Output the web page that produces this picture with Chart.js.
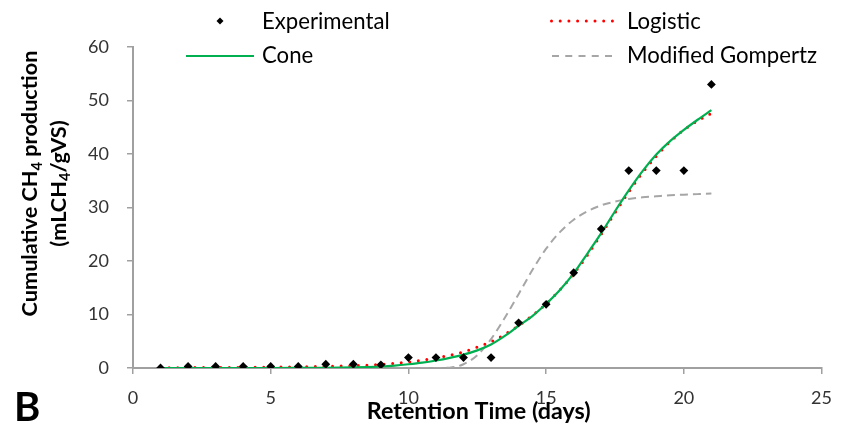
<!DOCTYPE html>
<html><head><meta charset="utf-8">
<script src="https://cdn.jsdelivr.net/npm/chart.js@4"></script>
<style>html,body{margin:0;padding:0;background:#fff}</style>
</head><body>
<canvas id="c" width="845" height="431"></canvas>
<script>
// ---- data ----
const days = [1,2,3,4,5,6,7,8,9,10,11,12,13,14,15,16,17,18,19,20,21];
const experimental = [0.0,0.3,0.3,0.3,0.3,0.3,0.7,0.7,0.6,1.95,1.95,1.95,1.95,8.45,11.9,17.8,26.0,36.9,36.9,36.9,53.0];
const modelDays = [1,2,3,4,5,6,7,8,8.5,9,9.5,10,10.5,11,11.5,12,12.5,13,13.5,14,14.5,15,15.5,16,16.5,17,17.5,18,18.5,19,19.5,20,20.5,21];
const cone = [0,0,0,0,0,0.02,0.05,0.12,0.18,0.28,0.45,0.7,1.0,1.4,1.9,2.5,3.3,4.4,6.0,7.9,9.7,12.0,14.6,17.7,21.4,25.2,29.3,33.2,36.8,39.9,42.4,44.5,46.4,48.2];
const logistic = [0.05,0.07,0.09,0.12,0.16,0.22,0.3,0.42,0.52,0.65,0.85,1.1,1.45,1.85,2.4,3.0,3.9,4.9,6.3,7.9,9.8,12.0,14.6,17.6,21.1,25.0,29.0,32.9,36.5,39.6,42.3,44.5,46.2,47.6];
const gompertz = [0,0,0,0,0,0,0,0,0,0,0,0,0,0.01,0.06,0.7,2.4,5.4,9.4,13.8,18.3,22.3,25.4,27.7,29.3,30.4,31.1,31.6,31.9,32.1,32.3,32.4,32.5,32.6];
const xTicks = [0,5,10,15,20,25];
const yTicks = [0,10,20,30,40,50,60];
const seriesNames = ['Experimental','Cone','Logistic','Modified Gompertz'];
const xTitle = 'Retention Time (days)';
const yTitle1 = [['Cumulative CH',0],['4',1],[' production',0]];
const yTitle2 = [['(mLCH',0],['4',1],['/gVS)',0]];
const panelLabel = 'B';

const FONT = 'Lato, "Liberation Sans", sans-serif';
const AXIS = '#a0a0a0';
const pts = (xs, ys) => xs.map((x,i)=>({x:x, y:ys[i]}));

function measureParts(ctx, parts, weight, size){
  let w = 0;
  for (const [t,sub] of parts){
    ctx.font = `${weight} ${sub? size*0.68 : size}px ${FONT}`;
    w += ctx.measureText(t).width;
  }
  return w;
}
function fitSize(ctx, parts, weight, target){
  return 100*target/measureParts(ctx, parts, weight, 100);
}
function drawParts(ctx, parts, weight, size, x, y){
  for (const [t,sub] of parts){
    ctx.font = `${weight} ${sub? size*0.68 : size}px ${FONT}`;
    ctx.fillText(t, x, y + (sub? size*0.22 : 0));
    x += ctx.measureText(t).width;
  }
}

const decor = {
  id:'decor',
  afterDraw(chart){
    const ctx = chart.ctx;
    ctx.save();
    ctx.fillStyle = '#000';
    ctx.textBaseline = 'alphabetic';
    ctx.textAlign = 'left';
    // legend
    const ls = fitSize(ctx, [['Modified Gompertz',0]], 'normal', 190);
    ctx.font = `normal ${ls}px ${FONT}`;
    ctx.fillText(seriesNames[0], 262, 28.5);
    ctx.fillText(seriesNames[1], 262, 63);
    ctx.fillText(seriesNames[2], 627, 28.5);
    ctx.fillText(seriesNames[3], 627, 63);
    // experimental marker
    ctx.beginPath();
    ctx.moveTo(220,17.5); ctx.lineTo(223.5,21); ctx.lineTo(220,24.5); ctx.lineTo(216.5,21); ctx.closePath();
    ctx.fill();
    // cone line
    ctx.strokeStyle = '#00b050'; ctx.lineWidth = 2.2;
    ctx.beginPath(); ctx.moveTo(186,56); ctx.lineTo(254,56); ctx.stroke();
    // logistic dots
    ctx.strokeStyle = '#ff0000'; ctx.lineWidth = 3; ctx.lineCap = 'round';
    ctx.setLineDash([0,8.7]);
    ctx.beginPath(); ctx.moveTo(551.5,21); ctx.lineTo(613,21); ctx.stroke();
    // gompertz dashes
    ctx.lineCap = 'butt';
    ctx.strokeStyle = '#a6a6a6'; ctx.lineWidth = 2;
    ctx.setLineDash([7,6.25]);
    ctx.beginPath(); ctx.moveTo(552,56); ctx.lineTo(612,56); ctx.stroke();
    ctx.setLineDash([]);
    // x title
    const xs = fitSize(ctx, [[xTitle,0]], 'bold', 224);
    ctx.font = `bold ${xs}px ${FONT}`;
    ctx.textAlign = 'center';
    ctx.fillText(xTitle, 478.7, 419.3);
    ctx.textAlign = 'left';
    // y title
    const ys = fitSize(ctx, yTitle1, 'bold', 266);
    const w1 = measureParts(ctx, yTitle1, 'bold', ys);
    const w2 = measureParts(ctx, yTitle2, 'bold', ys);
    ctx.save(); ctx.translate(37, 183.5); ctx.rotate(-Math.PI/2);
    drawParts(ctx, yTitle1, 'bold', ys, -w1/2, 0);
    ctx.restore();
    ctx.save(); ctx.translate(65.5, 183.5); ctx.rotate(-Math.PI/2);
    drawParts(ctx, yTitle2, 'bold', ys, -w2/2, 0);
    ctx.restore();
    // panel label
    ctx.font = `bold 40px ${FONT}`;
    ctx.fillText(panelLabel, 14, 420.5);
    ctx.restore();
  }
};

new Chart(document.getElementById('c'), {
  type: 'scatter',
  data: { datasets: [
    { label: seriesNames[0], data: pts(days, experimental), showLine:false,
      pointStyle:'rectRot', pointRadius:4.4, pointHoverRadius:4.4,
      backgroundColor:'#000', borderColor:'#000', borderWidth:0, order:0 },
    { label: seriesNames[1], data: pts(modelDays, cone), showLine:true,
      borderColor:'#00b050', borderWidth:2.2, pointRadius:0, fill:false,
      cubicInterpolationMode:'monotone', order:1 },
    { label: seriesNames[2], data: pts(modelDays, logistic), showLine:true,
      borderColor:'#ff0000', borderWidth:3, borderDash:[0,8.6], borderCapStyle:'round',
      pointRadius:0, fill:false, cubicInterpolationMode:'monotone', order:2 },
    { label: seriesNames[3], data: pts(modelDays, gompertz), showLine:true,
      borderColor:'#a6a6a6', borderWidth:2, borderDash:[8,5],
      pointRadius:0, fill:false, cubicInterpolationMode:'monotone', order:3 }
  ]},
  options: {
    responsive:false, animation:false, devicePixelRatio:1,
    layout:{ padding:{ top:47, right:17, left:0, bottom:0 } },
    plugins:{ legend:{display:false}, tooltip:{enabled:false} },
    scales:{
      x:{ type:'linear', min:0, max:25,
        afterBuildTicks: s => { s.ticks = xTicks.map(v=>({value:v})); },
        afterFit: s => { s.height = 63; },
        ticks:{ font:{family:FONT, size:18}, color:'#333', padding:13, maxRotation:0 },
        grid:{ drawOnChartArea:false, drawTicks:true, tickLength:6, color:AXIS, lineWidth:1.5 },
        border:{ display:true, color:AXIS, width:2 } },
      y:{ type:'linear', min:0, max:60,
        afterBuildTicks: s => { s.ticks = yTicks.map(v=>({value:v})); },
        afterFit: s => { s.width = 133; },
        ticks:{ font:{family:FONT, size:18}, color:'#333', padding:18 },
        grid:{ drawOnChartArea:false, drawTicks:true, tickLength:6, color:AXIS, lineWidth:1.5 },
        border:{ display:true, color:AXIS, width:2 } }
    }
  },
  plugins:[decor]
});
</script>
</body></html>
